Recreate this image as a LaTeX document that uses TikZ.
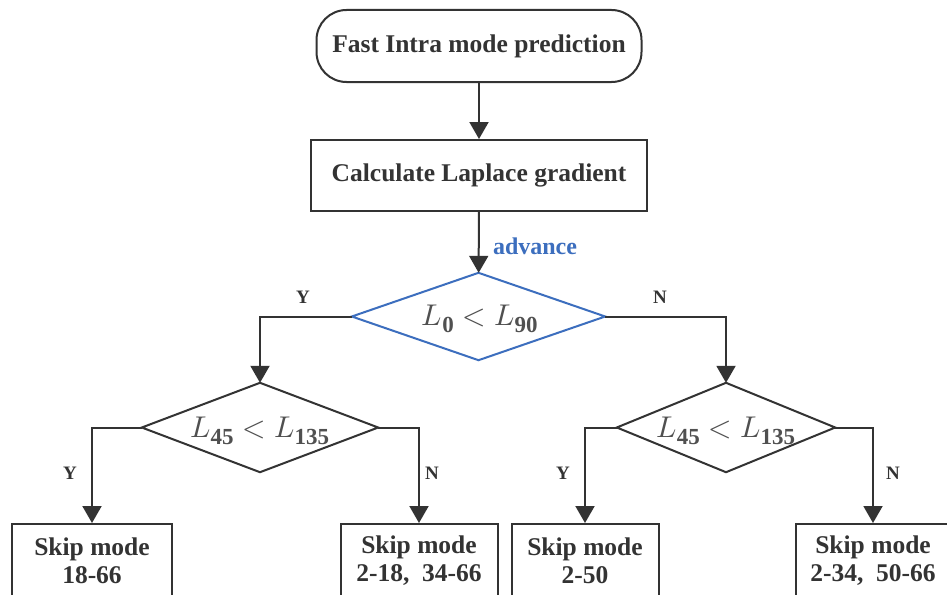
\documentclass[tikz,border=0pt]{standalone}
\usepackage{fontspec}
\setmainfont{Liberation Serif}
\usepackage{unicode-math}
\setmathfont{Latin Modern Math}
\usetikzlibrary{shapes.geometric,arrows.meta}
\definecolor{lineclr}{HTML}{333333}
\definecolor{blueclr}{HTML}{3C6EBE}
\definecolor{mathclr}{HTML}{505050}
\newcommand{\Lsub}[1]{L_{\hbox{\fontsize{23}{23}\selectfont$\mathbf{#1}$}}}
\tikzset{
  base/.style={draw=lineclr, line width=2pt, text=lineclr, font=\fontsize{25.5}{28}\selectfont\bfseries, align=center, inner sep=0pt},
  startbox/.style={base, rounded corners=30pt, minimum width=325pt, minimum height=72pt},
  procbox/.style={base, rectangle, minimum width=336pt, minimum height=71pt},
  decision/.style={rectangle, inner sep=0pt, font=\fontsize{30}{32}\selectfont, text=mathclr},
  skipbox/.style={base, rectangle, minimum height=74pt},
  diam/.style={line width=2pt, draw=lineclr},
  conn/.style={draw=lineclr, line width=2pt, -{Triangle[length=17pt,width=19pt]}},
  lbl/.style={text=lineclr, font=\fontsize{19}{22}\selectfont\bfseries, inner sep=0pt}
}
\begin{document}
\begin{tikzpicture}[x=1pt,y=-1pt]
\useasboundingbox (0,0) rectangle (947,594);
\clip (0,0) rectangle (947,594);
\fill[white] (0,0) rectangle (947,594);

\node[startbox] (start) at (479,46) {Fast Intra mode prediction};
\node[procbox] (lap) at (479,175.5) {Calculate Laplace gradient};
\node[decision, minimum width=253pt, minimum height=87pt] (d1) at (478.5,316.5) {};
\node[decision, minimum width=236pt, minimum height=89pt] (d2) at (260,427.5) {};
\node[decision, minimum width=218pt, minimum height=89pt] (d3) at (726,427.5) {};
\draw[diam, draw=blueclr] (d1.north) -- (d1.east) -- (d1.south) -- (d1.west) -- cycle;
\draw[diam] (d2.north) -- (d2.east) -- (d2.south) -- (d2.west) -- cycle;
\draw[diam] (d3.north) -- (d3.east) -- (d3.south) -- (d3.west) -- cycle;
\node[decision, anchor=base] (t1) at (480,325) {$\Lsub{0} < \Lsub{90}$};
\node[decision, anchor=base] (t2) at (260,437) {$\Lsub{45} < \Lsub{135}$};
\node[decision, anchor=base] (t3) at (726,437) {$\Lsub{45} < \Lsub{135}$};

\node[skipbox, minimum width=160pt] (s1) at (92,561) {Skip mode\\18-66};
\node[skipbox, minimum width=157pt] (s2) at (419,561) {Skip mode\\2-18,\ \ 34-66};
\node[skipbox, minimum width=147pt] (s3) at (585,561) {Skip mode\\2-50};
\node[skipbox, minimum width=154pt] (s4) at (873,561) {Skip mode\\2-34,\ \ 50-66};

\draw[conn] (start) -- (lap);
\draw[conn] (lap) -- (d1);
\draw[conn] (d1.west) -| (d2.north);
\draw[conn] (d1.east) -| (d3.north);
\draw[conn] (d2.west) -| (s1.north);
\draw[conn] (d2.east) -| (s2.north);
\draw[conn] (d3.west) -| (s3.north);
\draw[conn] (d3.east) -| (s4.north);

\node[lbl, text=blueclr, font=\fontsize{24}{26}\selectfont\bfseries] (adv) at (535,246) {advance};
\node[lbl] (y1) at (303,297) {Y};
\node[lbl] (n1) at (660,297) {N};
\node[lbl] (y2) at (70,473) {Y};
\node[lbl] (n2) at (432,473) {N};
\node[lbl] (y3) at (563,473) {Y};
\node[lbl] (n3) at (893,473) {N};
\end{tikzpicture}
\end{document}
